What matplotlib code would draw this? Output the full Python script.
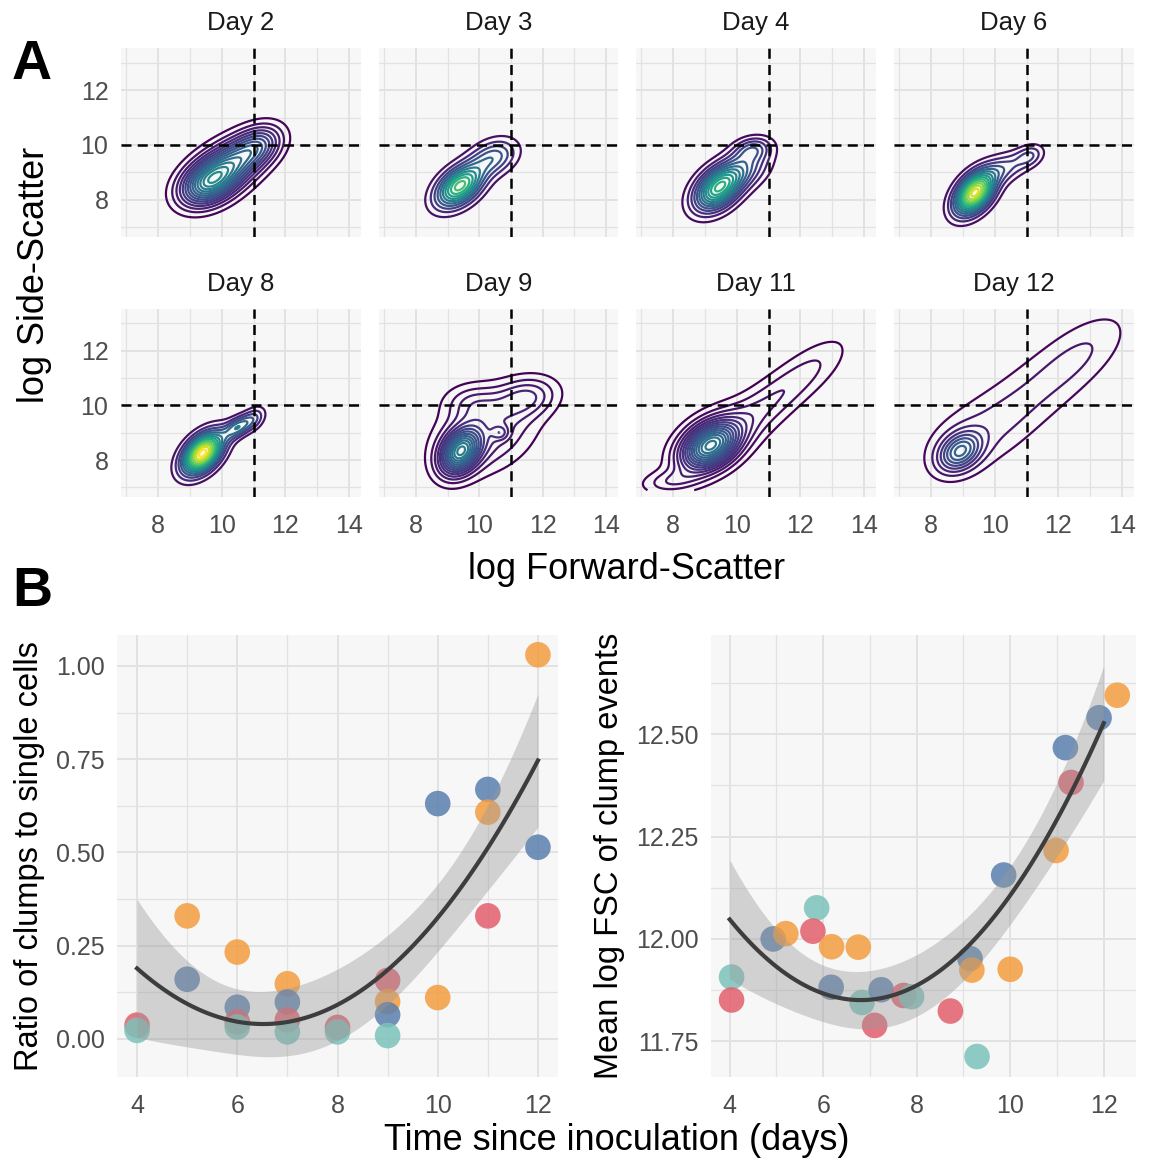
import numpy as np
import matplotlib
matplotlib.use("Agg")
import matplotlib.pyplot as plt
from matplotlib.ticker import FixedLocator, FormatStrFormatter

plt.rcParams['font.family'] = ['Liberation Sans', 'DejaVu Sans']

W, H = 1151, 1160

# ---- panel A: density blobs per day (weight, fsc, ssc, sd_fsc, sd_ssc, rho) ----
days = [2, 3, 4, 6, 8, 9, 11, 12]
n_contours = [14, 10, 12, 14, 14, 14, 15, 8]
day2_blobs = [(0.42, 9.5, 8.55, 0.58, 0.55, 0.3), (0.32, 10.0, 9.05, 0.62, 0.6, 0.25),
              (0.26, 10.6, 9.55, 0.6, 0.6, 0.3), (0.18, 11.2, 10.0, 0.5, 0.5, 0.3)]
day3_blobs = [(0.72, 9.38, 8.5, 0.5, 0.52, 0.45), (0.28, 10.45, 9.55, 0.5, 0.45, 0.3)]
day4_blobs = [(0.65, 9.4, 8.4, 0.5, 0.55, 0.4), (0.25, 10.2, 9.1, 0.55, 0.5, 0.35),
              (0.10, 10.5, 9.85, 0.4, 0.3, 0.2)]
day6_blobs = [(0.78, 9.37, 8.25, 0.42, 0.52, 0.45), (0.15, 10.3, 9.15, 0.5, 0.4, 0.45),
              (0.06, 11.1, 9.6, 0.3, 0.28, 0.3)]
day8_blobs = [(0.80, 9.39, 8.24, 0.42, 0.5, 0.45), (0.10, 10.5, 9.2, 0.28, 0.28, 0.5),
              (0.06, 11.0, 9.5, 0.25, 0.3, 0.4), (0.04, 10.0, 8.9, 0.4, 0.4, 0.5)]
day9_blobs = [(0.35, 9.4, 8.3, 0.42, 0.55, 0.3), (0.50, 10.2, 9.0, 1.05, 1.0, 0.3),
              (0.15, 11.5, 10.3, 0.65, 0.5, 0.2), (0.08, 9.8, 10.1, 0.6, 0.45, 0.0),
              (0.01, 10.66, 9.0, 0.18, 0.18, 0.0)]
day11_blobs = [(0.50, 9.15, 8.5, 0.6, 0.6, 0.35), (0.20, 9.5, 8.9, 0.95, 0.85, 0.5),
               (0.14, 10.9, 10.0, 0.9, 0.9, 0.7), (0.12, 12.3, 11.3, 0.9, 0.9, 0.7),
               (0.05, 7.9, 7.2, 0.6, 0.3, 0.2)]
day12_blobs = [(0.25, 8.9, 8.3, 0.45, 0.48, 0.3), (0.25, 9.2, 8.8, 1.1, 1.0, 0.35),
               (0.24, 10.4, 9.7, 1.2, 1.2, 0.6), (0.24, 11.7, 10.9, 1.2, 1.2, 0.6),
               (0.20, 12.9, 12.1, 1.0, 1.0, 0.6)]
all_blobs = [day2_blobs, day3_blobs, day4_blobs, day6_blobs,
             day8_blobs, day9_blobs, day11_blobs, day12_blobs]
fsc_gate = 11
ssc_gate = 10

# ---- panel B: clump ratio ----
ratio_day = [4, 4, 5, 5, 6, 6, 6, 6, 7, 7, 7, 7, 8, 8, 9, 9, 9, 9, 10, 10, 11, 11, 11, 12, 12]
ratio_val = [0.037, 0.023, 0.33, 0.16, 0.233, 0.085, 0.046, 0.032, 0.148, 0.099, 0.051, 0.019,
             0.031, 0.019, 0.157, 0.10, 0.065, 0.009, 0.631, 0.111, 0.669, 0.608, 0.33, 1.03, 0.514]
ratio_grp = [1, 0, 3, 2, 3, 2, 1, 0, 3, 2, 1, 0, 1, 0, 1, 3, 2, 0, 2, 3, 2, 3, 1, 3, 2]

# ---- panel B: mean log FSC of clumps (x jittered in the plot) ----
fsc_day = [4, 4, 5, 5, 6, 6, 6, 6, 7, 7, 7, 7, 8, 8, 9, 9, 9, 9, 10, 10, 11, 11, 11, 12, 12]
fsc_jit = [0.04, 0.04, -0.07, 0.20, -0.14, -0.22, 0.18, 0.17, -0.25, -0.17, 0.10, 0.24,
           -0.28, -0.11, -0.28, 0.14, 0.18, 0.29, 0.0, -0.14, -0.02, 0.18, 0.30, -0.10, 0.29]
fsc_val = [11.907, 11.851, 12.0, 12.013, 12.076, 12.019, 11.981, 11.882, 11.98, 11.845, 11.789,
           11.876, 11.862, 11.859, 11.824, 11.952, 11.924, 11.713, 11.926, 12.156, 12.216, 12.467,
           12.382, 12.54, 12.595]
fsc_grp = [0, 1, 2, 3, 0, 1, 3, 2, 3, 0, 1, 2, 1, 0, 1, 2, 3, 0, 3, 2, 3, 2, 1, 2, 3]

group_colors = ['#7cc3bb', '#e25f6d', '#5a7fae', '#f49d40']


def px_axes(fig, x0, y0, x1, y1):
    return fig.add_axes([x0 / W, 1 - y1 / H, (x1 - x0) / W, (y1 - y0) / H])


def style_axes(ax, xmaj, xmin, ymaj, ymin):
    ax.set_facecolor('#f7f7f7')
    for s in ax.spines.values():
        s.set_visible(False)
    ax.xaxis.set_major_locator(FixedLocator(xmaj))
    ax.xaxis.set_minor_locator(FixedLocator(xmin))
    ax.yaxis.set_major_locator(FixedLocator(ymaj))
    ax.yaxis.set_minor_locator(FixedLocator(ymin))
    ax.grid(True, which='major', color='#e2e2e2', lw=1.4)
    ax.grid(True, which='minor', color='#e2e2e2', lw=0.9)
    ax.set_axisbelow(True)
    ax.tick_params(which='both', length=0, labelsize=18, labelcolor='#4d4d4d', pad=9)
    ax.tick_params(axis='x', pad=12)


def mixture(X, Y, blobs):
    Z = np.zeros_like(X)
    for w, mx, my, sx, sy, r in blobs:
        dx = (X - mx) / sx
        dy = (Y - my) / sy
        q = (dx * dx - 2 * r * dx * dy + dy * dy) / (1 - r * r)
        Z += w * np.exp(-q / 2) / (2 * np.pi * sx * sy * np.sqrt(1 - r * r))
    return Z


def poly_band(x, y, xg, deg=2):
    # lm(y ~ poly(x, deg)) with a 95% confidence band
    x = np.asarray(x, float)
    y = np.asarray(y, float)
    X = np.vander(x, deg + 1)
    Xg = np.vander(xg, deg + 1)
    beta, *_ = np.linalg.lstsq(X, y, rcond=None)
    res = y - X @ beta
    df = len(x) - deg - 1
    cov = (res @ res / df) * np.linalg.inv(X.T @ X)
    se = np.sqrt(np.einsum('ij,jk,ik->i', Xg, cov, Xg))
    z = 1.959964
    t = (z + (z ** 3 + z) / 4 / df + (5 * z ** 5 + 16 * z ** 3 + 3 * z) / 96 / df ** 2
         + (3 * z ** 7 + 19 * z ** 5 + 17 * z ** 3 - 15 * z) / 384 / df ** 3)
    fit = Xg @ beta
    return fit, fit - t * se, fit + t * se


fig = plt.figure(figsize=(W / 100, H / 100), dpi=100)

# ---------------- panel A ----------------
cols = [(121, 361), (379, 618), (636, 876), (894, 1134)]
rows = [(48, 237), (309, 497)]
gx = np.linspace(6.5, 14.6, 300)
gy = np.linspace(6.9, 13.6, 300)
GX, GY = np.meshgrid(gx, gy)
dens = [mixture(GX, GY, b) for b in all_blobs]
lev_list = []
for Z, n in zip(dens, n_contours):
    step = Z.max() / (n + 0.5)
    lev_list.append(step * np.arange(1, n + 1))
lmin = min(l.min() for l in lev_list)
lmax = max(l.max() for l in lev_list)
cmap = plt.get_cmap('viridis')

for i, day in enumerate(days):
    r, c = divmod(i, 4)
    ax = px_axes(fig, cols[c][0], rows[r][0], cols[c][1], rows[r][1])
    style_axes(ax, [8, 10, 12, 14], [7, 9, 11, 13], [8, 10, 12], [7, 9, 11, 13])
    levels = lev_list[i]
    colors = [cmap((lv - lmin) / (lmax - lmin)) for lv in levels]
    ax.contour(GX, GY, dens[i], levels=levels, colors=colors, linewidths=1.6)
    ax.axvline(fsc_gate, color='black', lw=1.8, ls=(0, (4, 2.5)))
    ax.axhline(ssc_gate, color='black', lw=1.8, ls=(0, (4, 2.5)))
    ax.set_xlim(6.84, 14.375)
    ax.set_ylim(6.65, 13.53)
    if c > 0:
        ax.tick_params(labelleft=False)
    if r == 0:
        ax.tick_params(labelbottom=False)
    ax.set_title('Day %d' % day, fontsize=18.5, pad=13, color='#1a1a1a')

fig.text(32 / W, 1 - 65 / H, 'A', fontsize=40, fontweight='bold', ha='center', va='center')
fig.text(35 / W, 1 - 275 / H, 'log Side-Scatter', fontsize=26, rotation=90,
         ha='center', va='center')
fig.text(627 / W, 1 - 569 / H, 'log Forward-Scatter', fontsize=26, ha='center', va='center')

# ---------------- panel B ----------------
fig.text(32 / W, 1 - 592 / H, 'B', fontsize=40, fontweight='bold', ha='center', va='center')
xg = np.linspace(4, 12, 80)

axl = px_axes(fig, 117, 635, 558, 1077)
style_axes(axl, [4, 6, 8, 10, 12], [5, 7, 9, 11], [0, 0.25, 0.5, 0.75, 1.0],
           [0.125, 0.375, 0.625, 0.875])
axl.scatter(ratio_day, ratio_val, s=340, c=[group_colors[g] for g in ratio_grp],
            alpha=0.85, linewidths=0, zorder=2)
fit, lo, hi = poly_band(ratio_day, ratio_val, xg)
axl.fill_between(xg, lo, hi, color='#999999', alpha=0.4, lw=0, zorder=3)
axl.plot(xg, fit, color='#3d3d3d', lw=3, zorder=4)
axl.set_xlim(3.6, 12.4)
axl.set_ylim(-0.102, 1.083)
axl.yaxis.set_major_formatter(FormatStrFormatter('%.2f'))
axl.set_ylabel('Ratio of clumps to single cells', fontsize=23.5, labelpad=8)

axr = px_axes(fig, 711, 635, 1136, 1077)
style_axes(axr, [4, 6, 8, 10, 12], [5, 7, 9, 11], [11.75, 12.0, 12.25, 12.5],
           [11.875, 12.125, 12.375, 12.625])
fsc_x = np.array(fsc_day) + np.array(fsc_jit)
axr.scatter(fsc_x, fsc_val, s=340, c=[group_colors[g] for g in fsc_grp],
            alpha=0.85, linewidths=0, zorder=2)
fit, lo, hi = poly_band(fsc_day, fsc_val, xg)
axr.fill_between(xg, lo, hi, color='#999999', alpha=0.4, lw=0, zorder=3)
axr.plot(xg, fit, color='#3d3d3d', lw=3, zorder=4)
axr.set_xlim(3.6, 12.69)
axr.set_ylim(11.663, 12.742)
axr.yaxis.set_major_formatter(FormatStrFormatter('%.2f'))
axr.set_ylabel('Mean log FSC of clump events', fontsize=23.5, labelpad=8)

fig.text(617 / W, 1 - 1140 / H, 'Time since inoculation (days)', fontsize=26,
         ha='center', va='center')

fig.savefig('out.png', dpi=100)
